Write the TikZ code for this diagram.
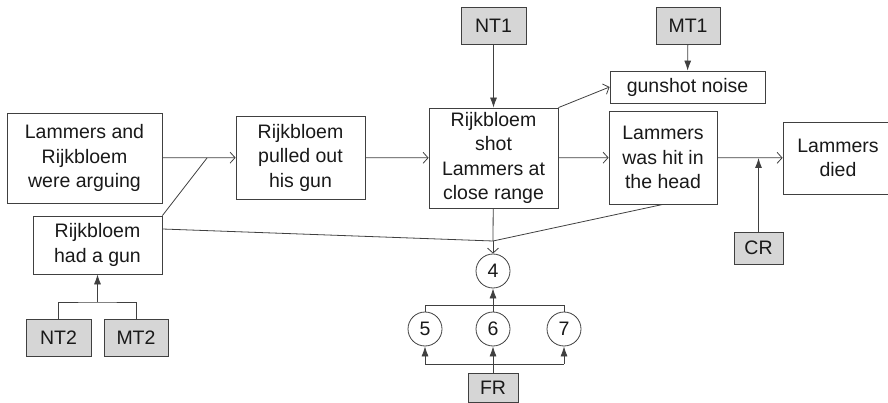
\documentclass[tikz,border=0pt]{standalone}
\usepackage{fontspec}
\setmainfont{Liberation Sans}
\usetikzlibrary{arrows.meta}

\begin{document}
\begin{tikzpicture}[x=1pt, y=-1pt, line width=0.8pt, draw=black!75,
  >={Straight Barb[length=5pt,width=11pt]},
  every node/.style={font=\fontsize{19.5}{24.5}\selectfont, text=black!90, align=center, inner sep=0pt},
  ev/.style={draw=black!75, rectangle},
  src/.style={draw=black!75, rectangle, fill=black!16},
  num/.style={draw=black!75, circle, minimum size=34pt},
  fat/.style={-{Latex[length=10pt,width=7pt]}}]

\useasboundingbox (0,0) rectangle (888,403);

\node[ev, minimum width=155pt, minimum height=90pt] (arguing) at (84.5,158) {Lammers and\\Rijkbloem\\were arguing};
\node[ev, minimum width=129pt, minimum height=58pt] (hadgun) at (97.5,245) {Rijkbloem\\had a gun};
\node[src, minimum width=65pt, minimum height=37pt] (nttwo) at (58.5,337.5) {NT2};
\node[src, minimum width=64pt, minimum height=37pt] (mttwo) at (136,337.5) {MT2};
\node[ev, minimum width=129pt, minimum height=83pt] (pulled) at (300.5,157.5) {Rijkbloem\\pulled out\\his gun};
\node[ev, minimum width=129pt, minimum height=100pt] (shot) at (493.5,158) {Rijkbloem\\shot\\Lammers at\\close range};
\node[src, minimum width=65pt, minimum height=37pt] (ntone) at (493.5,25.5) {NT1};
\node[src, minimum width=64pt, minimum height=37pt] (mtone) at (688,25.5) {MT1};
\node[ev, minimum width=155pt, minimum height=32pt] (noise) at (687.5,87) {gunshot noise};
\node[ev, minimum width=108pt, minimum height=93pt] (hit) at (663,157.5) {Lammers\\was hit in\\the head};
\node[ev, minimum width=110pt, minimum height=72pt] (died) at (838,158) {Lammers\\died};
\node[src, minimum width=49pt, minimum height=32pt] (cr) at (758.5,248) {CR};

\node[num] (four) at (493,271) {4};
\node[num] (five) at (425,329) {5};
\node[num] (six) at (493,329) {6};
\node[num] (seven) at (564,329) {7};
\node[src, minimum width=50pt, minimum height=29pt] (fr) at (493,387.5) {FR};

% joints
\coordinate (jargue) at (207,158);
\coordinate (jfour) at (493,241);
\coordinate (jdied) at (758.5,158);
\coordinate (jtwo) at (97.5,302);
\coordinate (bfive) at (425,364);
\coordinate (bseven) at (564,364);

\draw[->] (arguing) -- (pulled);
\draw (hadgun.north east) -- (jargue);
\draw[->] (pulled) -- (shot);
\draw[->] (shot) -- (hit);
\draw[->] (hit) -- (died);
\draw[->] (shot.north east) -- (noise.west);
\draw[fat] (ntone) -- (shot);
\draw[fat] (mtone) -- (noise);
\draw[fat] (cr) -- (jdied);

\draw (shot) -- (jfour);
\draw ([yshift=16pt]hadgun.east) -- (jfour);
\draw (hit.south) -- (jfour);
\draw[->] (jfour) -- (four);

\draw (nttwo.north) |- (jtwo) -| (mttwo.north);
\draw[fat] (jtwo) -- (hadgun);

\draw (five.north) -- ++(0,-6) -| (seven.north);
\draw[fat] (six) -- (four);
\draw (bfive) -- (bseven);
\draw[fat] (bfive) -- (five);
\draw[fat] (bseven) -- (seven);
\draw[fat] (fr) -- (six);
\end{tikzpicture}
\end{document}
